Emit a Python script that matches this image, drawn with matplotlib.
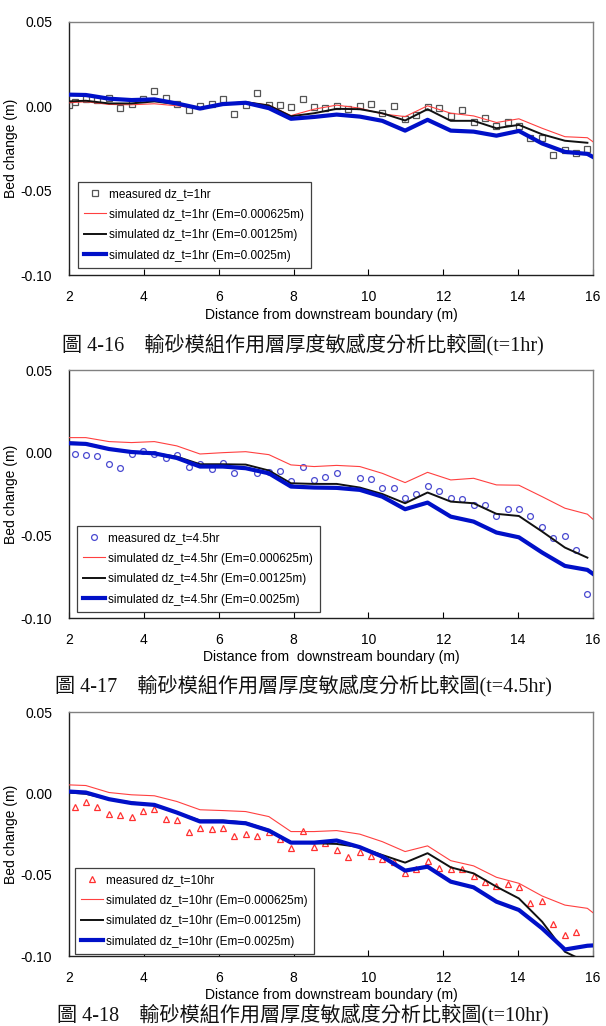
import numpy as np
import matplotlib
matplotlib.use('Agg')
import matplotlib.pyplot as plt

nan = float('nan')

# ---------------- data ----------------
X_SIM = [2.0, 2.45, 3.07, 3.67, 4.28, 4.88, 5.50, 6.11, 6.72, 7.34, 7.93, 8.55, 9.15,
         9.77, 10.37, 10.98, 11.58, 12.20, 12.81, 13.42, 14.02, 14.64, 15.25, 15.85, 16.0]

# t = 1 hr
P1_MX = [2.0, 2.15, 2.45, 2.76, 3.07, 3.37, 3.67, 3.98, 4.28, 4.58, 4.88, 5.20, 5.50, 5.81,
         6.11, 6.41, 6.72, 7.02, 7.34, 7.63, 7.93, 8.24, 8.55, 8.85, 9.15, 9.46, 9.77, 10.07,
         10.37, 10.67, 10.98, 11.28, 11.58, 11.89, 12.20, 12.51, 12.81, 13.11, 13.42, 13.72,
         14.02, 14.32, 14.64, 14.94, 15.25, 15.55, 15.85]
P1_MY = [0.0008, 0.0024, 0.0044, 0.0034, 0.0048, -0.0012, 0.0012, 0.0040, 0.0092, 0.0048,
         0.0014, -0.0022, 0.0002, 0.0012, 0.0040, -0.0048, 0.0006, 0.0078, 0.0008, 0.0006,
         -0.0008, 0.0042, -0.0006, -0.0010, 0.0002, -0.0016, 0.0002, 0.0012, -0.0042, 0.0000,
         -0.0075, -0.0054, -0.0006, -0.0010, -0.0058, -0.0020, -0.0091, -0.0069, -0.0117,
         -0.0093, -0.0117, -0.0191, -0.0190, -0.0287, -0.0261, -0.0277, -0.0255]
P1_RED = [0.0020, 0.0026, 0.0010, 0.0008, 0.0014, 0.0002, -0.0014, 0.0012, 0.0024, 0.0006,
          -0.0056, -0.0018, 0.0006, -0.0012, -0.0046, -0.0062, 0.0002, -0.0042, -0.0058,
          -0.0097, -0.0075, -0.0131, -0.0181, -0.0187, -0.0211]
P1_BLACK = [0.0028, 0.0032, 0.0016, 0.0016, 0.0028, 0.0012, -0.0012, 0.0012, 0.0024, 0.0004,
            -0.0060, -0.0042, -0.0016, -0.0018, -0.0042, -0.0085, -0.0018, -0.0087, -0.0087,
            -0.0131, -0.0111, -0.0167, -0.0205, -0.0217, nan]
P1_BLUE = [0.0068, 0.0066, 0.0044, 0.0036, 0.0040, 0.0016, -0.0014, 0.0012, 0.0020, -0.0012,
           -0.0075, -0.0064, -0.0050, -0.0062, -0.0087, -0.0145, -0.0081, -0.0145, -0.0151,
           -0.0175, -0.0147, -0.0221, -0.0271, -0.0283, -0.0301]

# t = 4.5 hr
P2_MX = [2.15, 2.45, 2.76, 3.07, 3.37, 3.67, 3.98, 4.28, 4.58, 4.88, 5.20, 5.50, 5.81, 6.11,
         6.41, 7.02, 7.34, 7.63, 7.93, 8.24, 8.55, 8.85, 9.15, 9.77, 10.07, 10.37, 10.67,
         10.98, 11.28, 11.58, 11.89, 12.20, 12.51, 12.81, 13.11, 13.42, 13.72, 14.02, 14.32,
         14.64, 14.94, 15.25, 15.55, 15.85]
P2_MY = [-0.0006, -0.0012, -0.0020, -0.0066, -0.0092, -0.0008, 0.0012, -0.0008, -0.0032,
         -0.0012, -0.0086, -0.0070, -0.0100, -0.0060, -0.0124, -0.0124, -0.0114, -0.0108,
         -0.0171, -0.0084, -0.0167, -0.0149, -0.0120, -0.0151, -0.0159, -0.0213, -0.0211,
         -0.0272, -0.0252, -0.0201, -0.0229, -0.0272, -0.0282, -0.0314, -0.0316, -0.0383,
         -0.0342, -0.0342, -0.0383, -0.0447, -0.0514, -0.0502, -0.0586, -0.0856]
P2_RED = [0.0091, 0.0091, 0.0067, 0.0061, 0.0067, 0.0041, -0.0008, 0.0000, 0.0006, -0.0012,
          -0.0074, -0.0084, -0.0077, -0.0084, -0.0125, -0.0181, -0.0119, -0.0165, -0.0155,
          -0.0195, -0.0197, -0.0266, -0.0336, -0.0372, -0.0403]
P2_BLACK = [0.0061, 0.0057, 0.0022, 0.0006, -0.0004, -0.0024, -0.0070, -0.0070, -0.0072,
            -0.0108, -0.0185, -0.0189, -0.0189, -0.0211, -0.0250, -0.0306, -0.0241, -0.0296,
            -0.0306, -0.0370, -0.0383, -0.0477, -0.0574, -0.0635, nan]
P2_BLUE = [0.0057, 0.0053, 0.0022, 0.0004, -0.0004, -0.0032, -0.0084, -0.0084, -0.0094,
           -0.0125, -0.0205, -0.0211, -0.0213, -0.0225, -0.0266, -0.0342, -0.0302, -0.0387,
           -0.0417, -0.0483, -0.0512, -0.0604, -0.0685, -0.0709, -0.0733]

# t = 10 hr
P3_MX = [2.15, 2.45, 2.76, 3.07, 3.37, 3.67, 3.98, 4.28, 4.58, 4.88, 5.20, 5.50, 5.81, 6.11,
         6.41, 6.72, 7.02, 7.34, 7.63, 7.93, 8.24, 8.55, 8.85, 9.15, 9.46, 9.77, 10.07,
         10.37, 10.67, 10.98, 11.28, 11.58, 11.89, 12.20, 12.51, 12.81, 13.11, 13.42, 13.72,
         14.02, 14.32, 14.64, 14.94, 15.25, 15.55]
P3_MY = [-0.0081, -0.0052, -0.0081, -0.0124, -0.0134, -0.0145, -0.0108, -0.0097, -0.0155,
         -0.0163, -0.0237, -0.0214, -0.0221, -0.0214, -0.0262, -0.0247, -0.0260, -0.0237,
         -0.0278, -0.0336, -0.0231, -0.0332, -0.0307, -0.0346, -0.0393, -0.0358, -0.0385,
         -0.0405, -0.0420, -0.0487, -0.0465, -0.0416, -0.0461, -0.0463, -0.0465, -0.0508,
         -0.0543, -0.0568, -0.0557, -0.0574, -0.0672, -0.0662, -0.0806, -0.0871, -0.0851]
P3_RED = [0.0052, 0.0048, 0.0005, -0.0009, -0.0015, -0.0050, -0.0101, -0.0106, -0.0112,
          -0.0143, -0.0235, -0.0235, -0.0229, -0.0251, -0.0297, -0.0358, -0.0323, -0.0414,
          -0.0446, -0.0516, -0.0553, -0.0631, -0.0687, -0.0707, -0.0734]
P3_BLACK = [0.0005, -0.0003, -0.0036, -0.0056, -0.0071, -0.0118, -0.0167, -0.0167, -0.0180,
            -0.0225, -0.0301, -0.0307, -0.0311, -0.0331, -0.0379, -0.0426, -0.0368, -0.0455,
            -0.0492, -0.0574, -0.0646, -0.0789, -0.0974, -0.1040, nan]
P3_BLUE = [0.0011, 0.0005, -0.0036, -0.0060, -0.0071, -0.0118, -0.0173, -0.0173, -0.0184,
           -0.0229, -0.0303, -0.0303, -0.0290, -0.0331, -0.0389, -0.0475, -0.0451, -0.0543,
           -0.0578, -0.0666, -0.0717, -0.0830, -0.0960, -0.0937, -0.0935]

X_TICKS = [2, 4, 6, 8, 10, 12, 14, 16]
Y_TICKS = [-0.10, -0.05, 0.00, 0.05]
Y_TICKLABELS = ['-0.10', '-0.05', '0.00', '0.05']
TIMES = ['1hr', '4.5hr', '10hr']
EM_LABELS = ['0.000625m', '0.00125m', '0.0025m']
XLABELS = ['Distance from downstream boundary (m)',
           'Distance from  downstream boundary (m)',
           'Distance from downstream boundary (m)']
CAPTIONS = ['圖 4-16\u3000輸砂模組作用層厚度敏感度分析比較圖(t=1hr)',
            '圖 4-17\u3000輸砂模組作用層厚度敏感度分析比較圖(t=4.5hr)',
            '圖 4-18\u3000輸砂模組作用層厚度敏感度分析比較圖(t=10hr)']

# ---------------- drawing ----------------
plt.rcParams['font.family'] = ['Liberation Sans', 'DejaVu Sans']

W, H = 606, 1026
fig = plt.figure(figsize=(W / 100, H / 100), dpi=100)

LEFT, RIGHT = 69, 593
geo = [
    dict(top=21.7, bot=275, xl=315, cap=345, leg=(78, 268)),
    dict(top=370, bot=618, xl=657, cap=686, leg=(77, 612)),
    dict(top=712, bot=956, xl=995, cap=1015, leg=(75, 954)),
]
series = [
    (P1_MX, P1_MY, P1_RED, P1_BLACK, P1_BLUE, 's', '#555555'),
    (P2_MX, P2_MY, P2_RED, P2_BLACK, P2_BLUE, 'o', '#4a4ad0'),
    (P3_MX, P3_MY, P3_RED, P3_BLACK, P3_BLUE, '^', '#ff3030'),
]

for i, (g, s) in enumerate(zip(geo, series)):
    mx, my, red, black, blue, mk, mc = s
    ax = fig.add_axes([LEFT / W, 1 - g['bot'] / H, (RIGHT - LEFT) / W, (g['bot'] - g['top']) / H])
    t = TIMES[i]
    ax.plot(mx, my, linestyle='none', marker=mk, markersize=4.2, markerfacecolor='none',
            markeredgecolor=mc, markeredgewidth=0.9, label=f'measured dz_t={t}', zorder=2)
    ax.plot(X_SIM, red, color='#ff4040', lw=0.8, label=f'simulated dz_t={t} (Em={EM_LABELS[0]})', zorder=3)
    ax.plot(X_SIM, black, color='#111111', lw=1.4, label=f'simulated dz_t={t} (Em={EM_LABELS[1]})', zorder=4)
    ax.plot(X_SIM, blue, color='#0010c8', lw=3.0, label=f'simulated dz_t={t} (Em={EM_LABELS[2]})', zorder=5)

    ax.set_xlim(2, 16)
    ax.set_ylim(-0.10, 0.05)
    ax.set_xticks(X_TICKS)
    ax.set_xticklabels([str(v) for v in X_TICKS])
    ax.set_yticks(Y_TICKS)
    ax.set_yticklabels(Y_TICKLABELS)
    ax.tick_params(axis='x', direction='in', length=4, width=0.8, pad=11, labelsize=10, colors='black')
    ax.tick_params(axis='y', direction='in', length=0, pad=12, labelsize=10)
    for side in ['left', 'bottom']:
        ax.spines[side].set_color('#202020')
        ax.spines[side].set_linewidth(1.0)
    for side in ['top', 'right']:
        ax.spines[side].set_color('#808080')
        ax.spines[side].set_linewidth(1.0)

    lx, ly = g['leg']
    leg = ax.legend(loc='lower left',
                    bbox_to_anchor=((lx - LEFT) / (RIGHT - LEFT), (g['bot'] - ly) / (g['bot'] - g['top'])),
                    fontsize=8.5, frameon=True, fancybox=False, framealpha=1, edgecolor='#404040',
                    handlelength=1.8, handletextpad=0.3, labelspacing=0.72, borderpad=0.55,
                    borderaxespad=0.0)
    leg.get_frame().set_linewidth(0.9)

    fig.text(11 / W, 1 - (g['top'] + g['bot']) / 2 / H, 'Bed change (m)', rotation=90,
             ha='center', va='center', fontsize=10)
    fig.text((LEFT + RIGHT) / 2 / W, 1 - g['xl'] / H, XLABELS[i], ha='center', va='center', fontsize=10)
    fig.text(303 / W, 1 - g['cap'] / H, CAPTIONS[i], ha='center', va='center', fontsize=14.5,
             family=['Liberation Serif', 'Noto Sans CJK TC'], color='#111111')

fig.savefig('out.png', dpi=100)
